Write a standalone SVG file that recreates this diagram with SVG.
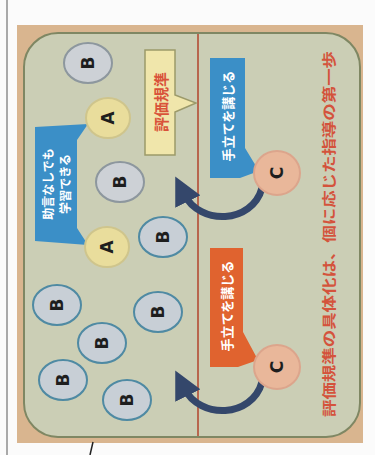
<svg xmlns="http://www.w3.org/2000/svg" width="375" height="455" viewBox="0 0 375 455">
<style>
.b{fill:#c8cfd6;stroke:#4f8aa3;stroke-width:2}
.bg{fill:#cdd1d6;stroke:#8d979e;stroke-width:2}
.a{fill:#e9dd9c;stroke:#cfc58c;stroke-width:2}
.c{fill:#e9b79a;stroke:#dca58c;stroke-width:2}
.lt{font-family:"DejaVu Sans","Liberation Sans",sans-serif;font-weight:bold;font-size:17px;fill:#1e1e1e}
.jp{font-family:"Noto Sans CJK JP",sans-serif;font-weight:bold}
.arc{fill:none;stroke:#34476b;stroke-width:7}
</style>
<defs>
<marker id="ah" viewBox="0 0 10 10" refX="3" refY="5" markerWidth="4" markerHeight="4" orient="auto" markerUnits="strokeWidth">
<path d="M0,0 L10,5 L0,10 z" fill="#34476b"/>
</marker>
</defs>
<rect width="375" height="455" fill="#fbfbfb"/>
<line x1="7" y1="0" x2="7" y2="455" stroke="#a9a9a9" stroke-width="2"/>
<rect x="17" y="25" width="346" height="418" fill="#d9b58f"/>
<rect x="24" y="33" width="336" height="404" rx="34" fill="#cbceb5" stroke="#7f8763" stroke-width="2"/>
<line x1="198" y1="34" x2="198" y2="436" stroke="#b8664e" stroke-width="2"/>
<line x1="93" y1="442" x2="90" y2="455" stroke="#222" stroke-width="1.5"/>

<g id="title">
<text class="jp" transform="translate(328,234) rotate(-90)" text-anchor="middle" dominant-baseline="central" font-size="14" fill="#d4533c" textLength="366" lengthAdjust="spacingAndGlyphs">評価規準の具体化は、個に応じた指導の第一歩</text>
</g>

<g id="connectors">
<path class="arc" d="M262,188 C252,224 200,226 184,194" marker-end="url(#ah)"/>
<path class="arc" d="M262,382 C252,418 200,420 184,388" marker-end="url(#ah)"/>
</g>

<g id="label-hyouka">
<path d="M145,50 H175 V95 L196,103 L175,112 V155 H145 Z" fill="#f0e6ab" stroke="#9c9a6a" stroke-width="1.5"/>
<text class="jp" transform="translate(160,102) rotate(-90)" text-anchor="middle" dominant-baseline="central" font-size="15" fill="#d9533a">評価規準</text>
</g>

<g id="callout-blue">
<path d="M210,58 H245 V148 L259,171 L240,178 H210 Z" fill="#3b8fc7"/>
<text class="jp" transform="translate(227,116) rotate(-90)" text-anchor="middle" dominant-baseline="central" font-size="13" fill="#ffffff">手立てを講じる</text>
</g>

<g id="callout-orange">
<path d="M210,248 H243 V332 L258,360 L238,367 H210 Z" fill="#e0632f"/>
<text class="jp" transform="translate(226,306) rotate(-90)" text-anchor="middle" dominant-baseline="central" font-size="13" fill="#ffffff">手立てを講じる</text>
</g>

<g id="callout-self">
<path d="M35,127 L88,124 L77,140 V228 L88,245 L35,241 Z" fill="#3b8fc7"/>
<text class="jp" transform="translate(47,184) rotate(-90)" text-anchor="middle" dominant-baseline="central" font-size="12" fill="#ffffff">助言なしでも</text>
<text class="jp" transform="translate(64,184) rotate(-90)" text-anchor="middle" dominant-baseline="central" font-size="12" fill="#ffffff">学習できる</text>
</g>

<g id="B1"><ellipse class="bg" cx="88" cy="63" rx="24" ry="20"/><text class="lt" transform="translate(88,63) rotate(-90)" text-anchor="middle" dominant-baseline="central">B</text></g>
<g id="A1"><ellipse class="a" cx="108" cy="118" rx="22" ry="20"/><text class="lt" transform="translate(108,118) rotate(-90)" text-anchor="middle" dominant-baseline="central">A</text></g>
<g id="B2"><ellipse class="bg" cx="120" cy="182" rx="24" ry="20"/><text class="lt" transform="translate(120,182) rotate(-90)" text-anchor="middle" dominant-baseline="central">B</text></g>
<g id="A2"><ellipse class="a" cx="107" cy="247" rx="22" ry="20"/><text class="lt" transform="translate(107,247) rotate(-90)" text-anchor="middle" dominant-baseline="central">A</text></g>
<g id="B3"><ellipse class="b" cx="163" cy="237" rx="24" ry="20"/><text class="lt" transform="translate(163,237) rotate(-90)" text-anchor="middle" dominant-baseline="central">B</text></g>
<g id="B4"><ellipse class="b" cx="57" cy="305" rx="24" ry="20"/><text class="lt" transform="translate(57,305) rotate(-90)" text-anchor="middle" dominant-baseline="central">B</text></g>
<g id="B5"><ellipse class="b" cx="158" cy="312" rx="24" ry="20"/><text class="lt" transform="translate(158,312) rotate(-90)" text-anchor="middle" dominant-baseline="central">B</text></g>
<g id="B6"><ellipse class="b" cx="102" cy="343" rx="24" ry="20"/><text class="lt" transform="translate(102,343) rotate(-90)" text-anchor="middle" dominant-baseline="central">B</text></g>
<g id="B7"><ellipse class="b" cx="63" cy="380" rx="24" ry="20"/><text class="lt" transform="translate(63,380) rotate(-90)" text-anchor="middle" dominant-baseline="central">B</text></g>
<g id="B8"><ellipse class="b" cx="127" cy="400" rx="24" ry="20"/><text class="lt" transform="translate(127,400) rotate(-90)" text-anchor="middle" dominant-baseline="central">B</text></g>
<g id="C1"><ellipse class="c" cx="277" cy="173" rx="23" ry="22"/><text class="lt" transform="translate(277,173) rotate(-90)" text-anchor="middle" dominant-baseline="central">C</text></g>
<g id="C2"><ellipse class="c" cx="277" cy="367" rx="23" ry="22"/><text class="lt" transform="translate(277,367) rotate(-90)" text-anchor="middle" dominant-baseline="central">C</text></g>
</svg>
